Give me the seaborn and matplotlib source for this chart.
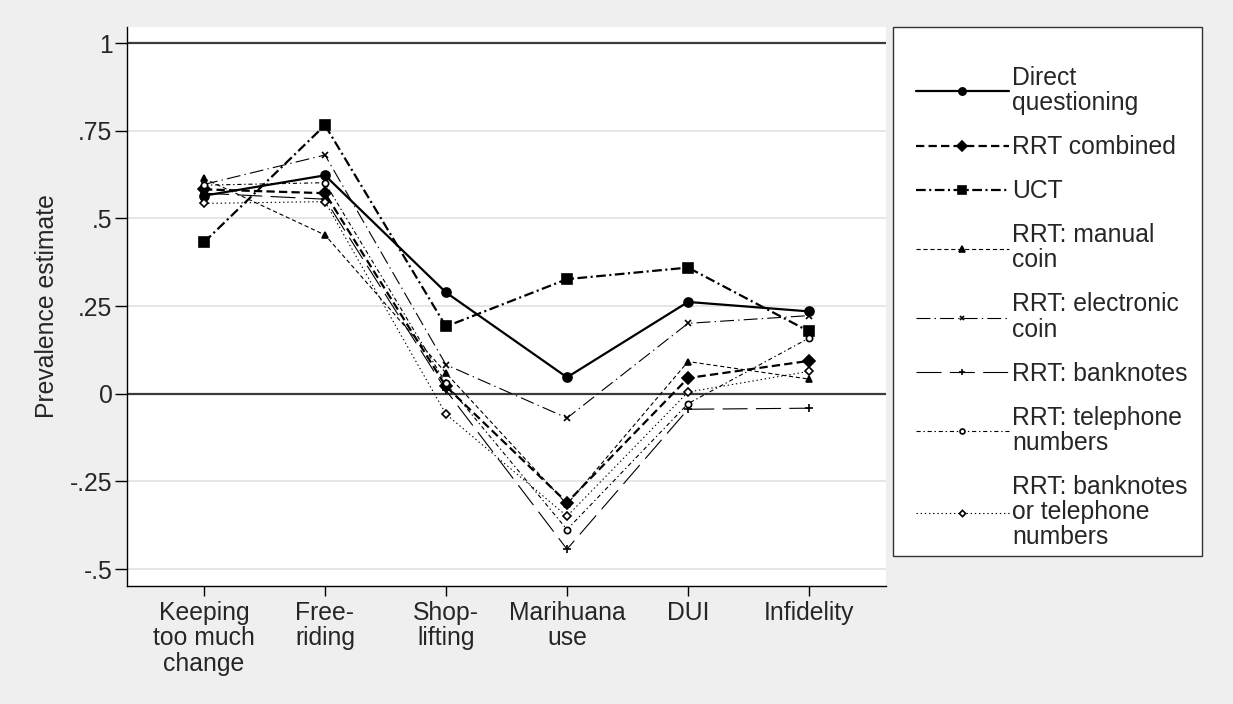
import matplotlib
matplotlib.use("Agg")
import matplotlib.pyplot as plt
from matplotlib.patches import Rectangle
import seaborn as sns
import pandas as pd
import numpy as np

categories = ["Keeping\ntoo much\nchange", "Free-\nriding", "Shop-\nlifting",
              "Marihuana\nuse", "DUI", "Infidelity"]
series_names = ["Direct\nquestioning", "RRT combined", "UCT", "RRT: manual\ncoin",
                "RRT: electronic\ncoin", "RRT: banknotes", "RRT: telephone\nnumbers",
                "RRT: banknotes\nor telephone\nnumbers"]

direct      = [0.565, 0.623, 0.289, 0.047, 0.262, 0.235]
rrt_comb    = [0.583, 0.572, 0.021, -0.310, 0.045, 0.094]
uct         = [0.432, 0.766, 0.192, 0.327, 0.360, 0.178]
manual      = [0.614, 0.453, 0.059, -0.315, 0.092, 0.042]
electronic  = [0.597, 0.681, 0.083, -0.069, 0.201, 0.223]
banknotes   = [0.572, 0.555, 0.010, -0.443, -0.044, -0.041]
telephone   = [0.595, 0.602, 0.030, -0.387, -0.028, 0.159]
bn_or_tel   = [0.543, 0.548, -0.058, -0.349, 0.005, 0.064]

values = [direct, rrt_comb, uct, manual, electronic, banknotes, telephone, bn_or_tel]

yticks = [1, 0.75, 0.5, 0.25, 0, -0.25, -0.5]
ytick_labels = ["1", ".75", ".5", ".25", "0", "-.25", "-.5"]

rows = []
for name, vals in zip(series_names, values):
    for i, v in enumerate(vals):
        rows.append({"series": name, "pos": i, "value": v})
df = pd.DataFrame(rows)

styles = [
    dict(lw=1.6, ls="-", marker="o", ms=6.5, mfc="black"),
    dict(lw=1.6, ls=(0, (6, 3)), marker="D", ms=6.5, mfc="black"),
    dict(lw=1.6, ls=(0, (7, 2.5, 1.5, 2.5)), marker="s", ms=6.5, mfc="black"),
    dict(lw=0.8, ls=(0, (3, 2)), marker="^", ms=5, mfc="black"),
    dict(lw=0.8, ls=(0, (10, 3, 1, 3)), marker="x", ms=4, mfc="black"),
    dict(lw=0.8, ls=(0, (18, 6)), marker="+", ms=6, mfc="black"),
    dict(lw=0.8, ls=(0, (3, 2, 1, 2)), marker="o", ms=4.5, mfc="white"),
    dict(lw=0.8, ls=(0, (1, 2)), marker="D", ms=4, mfc="white"),
]

FS = 17.8
sns.set_theme(style="white")
plt.rcParams["font.family"] = ["Liberation Sans", "DejaVu Sans"]
plt.rcParams["lines.scale_dashes"] = False

BG = "#efefef"
W, H = 1233, 704
fig = plt.figure(figsize=(W / 100, H / 100), dpi=100, facecolor=BG)
ax = fig.add_axes([127 / W, 1 - 586 / H, (886 - 127) / W, (586 - 27) / H])
ax.set_facecolor("white")

for y in yticks:
    if y in (0, 1):
        ax.axhline(y, color="#3a3a3a", lw=1.6, zorder=1)
    else:
        ax.axhline(y, color="#e6e6e6", lw=1.4, zorder=0)

handles = []
for name, st in zip(series_names, styles):
    sub = df[df["series"] == name]
    sns.lineplot(data=sub, x="pos", y="value", ax=ax, color="black",
                 linewidth=st["lw"], linestyle=st["ls"], marker=st["marker"],
                 markersize=st["ms"], markerfacecolor=st["mfc"],
                 markeredgecolor="black", markeredgewidth=1.2,
                 errorbar=None, label=name, legend=False, zorder=3)
    handles.append(ax.lines[-1])

ax.set_xlim(-0.636, 5.636)
ax.set_ylim(-0.548, 1.046)
ax.set_xticks(range(len(categories)))
ax.set_xticklabels(categories, fontsize=FS, linespacing=1.06)
ax.set_yticks(yticks)
ax.set_yticklabels(ytick_labels, fontsize=FS)
ax.tick_params(axis="y", length=8.5, width=1, color="black", pad=2, left=True)
ax.tick_params(axis="x", length=7, width=1, color="black", pad=4, bottom=True)
ax.set_xlabel("")
ax.set_ylabel("Prevalence estimate", fontsize=FS, labelpad=8)

for side in ["top", "right"]:
    ax.spines[side].set_visible(False)
for side in ["left", "bottom"]:
    ax.spines[side].set_color("black")
    ax.spines[side].set_linewidth(1)

# legend box
box = Rectangle((893 / W, 1 - 556 / H), (1202 - 893) / W, (556 - 27) / H,
                transform=fig.transFigure, facecolor="white", edgecolor="#333333",
                linewidth=1.0, zorder=0)
fig.patches.append(box)

leg = fig.legend(handles, series_names, loc="upper left",
                 bbox_to_anchor=(916 / W, 1 - 66 / H), bbox_transform=fig.transFigure,
                 fontsize=FS, frameon=False, borderaxespad=0, borderpad=0,
                 handlelength=3.75, handletextpad=0.15, labelspacing=0.81,
                 markerscale=0.8, numpoints=1)
for t in leg.get_texts():
    t.set_linespacing(1.06)

fig.savefig("out.png", dpi=100, facecolor=BG)
